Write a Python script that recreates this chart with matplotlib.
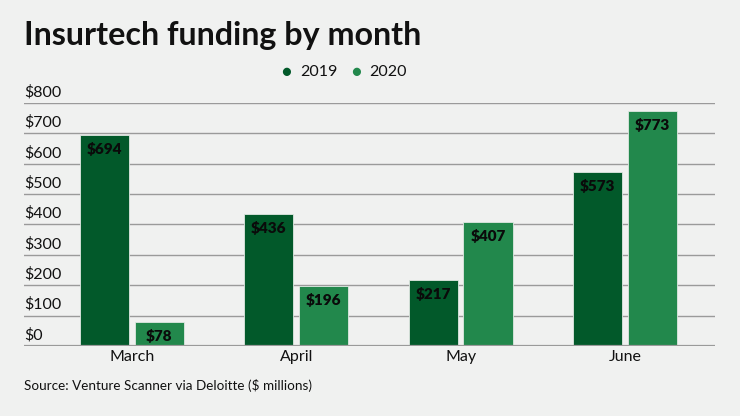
import numpy as np
import matplotlib.pyplot as plt
from matplotlib.transforms import blended_transform_factory

# Data
months = ['March', 'April', 'May', 'June']
funding_2019 = [694, 436, 217, 573]
funding_2020 = [78, 196, 407, 773]
yticks = [0, 100, 200, 300, 400, 500, 600, 700, 800]

c2019 = '#02592a'
c2020 = '#22884c'
bg = '#f0f1f0'

plt.rcParams['font.family'] = ['Lato', 'DejaVu Sans']

fig = plt.figure(figsize=(7.4, 4.16), dpi=100)
fig.patch.set_facecolor(bg)
ax = fig.add_axes([24 / 740, 70 / 416, 691 / 740, 243 / 416])
ax.set_facecolor(bg)

x = np.arange(len(months))
w = 0.30
off = 0.167
b1 = ax.bar(x - off, funding_2019, w, color=c2019, edgecolor='#dfe8e2', linewidth=0.6, zorder=3)
b2 = ax.bar(x + off, funding_2020, w, color=c2020, edgecolor='#dfe8e2', linewidth=0.6, zorder=3)

# value labels inside top of bars
for bars, vals in [(b1, funding_2019), (b2, funding_2020)]:
    for b, v in zip(bars, vals):
        ax.annotate(f'${v}', (b.get_x() + b.get_width() / 2, v), xytext=(0, -5),
                    textcoords='offset points', ha='center', va='top',
                    fontsize=11, fontweight='heavy', color='#0a0a0a', zorder=4)

ax.set_xlim(-0.657, 3.548)
ax.set_ylim(0, 800)

# gridlines and y labels sitting above them
for t in yticks[1:]:
    ax.axhline(t, color='#9a9a9a', linewidth=1.0, zorder=1)
ax.axhline(0, color='#9a9a9a', linewidth=1.6, zorder=4)
tr = blended_transform_factory(ax.transAxes, ax.transData)
for t in yticks:
    ax.text(0.0, t + 12, f'${t}', transform=tr, ha='left', va='bottom',
            fontsize=11.5, color='#111111')

for s in ax.spines.values():
    s.set_visible(False)
ax.set_yticks([])
ax.set_xticks(x)
ax.set_xticklabels(months, fontsize=11.5, color='#111111')
ax.tick_params(axis='x', length=0, pad=3)

# title
fig.text(24 / 740, 1 - 36 / 416, 'Insurtech funding by month', fontsize=23.2,
         fontweight='bold', color='#111111', ha='left', va='center')

# legend
ly = 1 - 72 / 416
fig.text(286 / 740, ly, '\u25CF', color=c2019, fontsize=12, ha='center', va='center')
fig.text(300 / 740, ly, '2019', color='#111111', fontsize=11.5, ha='left', va='center')
fig.text(356 / 740, ly, '\u25CF', color=c2020, fontsize=12, ha='center', va='center')
fig.text(369 / 740, ly, '2020', color='#111111', fontsize=11.5, ha='left', va='center')

# source
fig.text(24 / 740, 1 - 386 / 416, 'Source: Venture Scanner via Deloitte ($ millions)',
         fontsize=9.7, color='#111111', ha='left', va='center')

fig.savefig('out.png', dpi=100, facecolor=bg)
